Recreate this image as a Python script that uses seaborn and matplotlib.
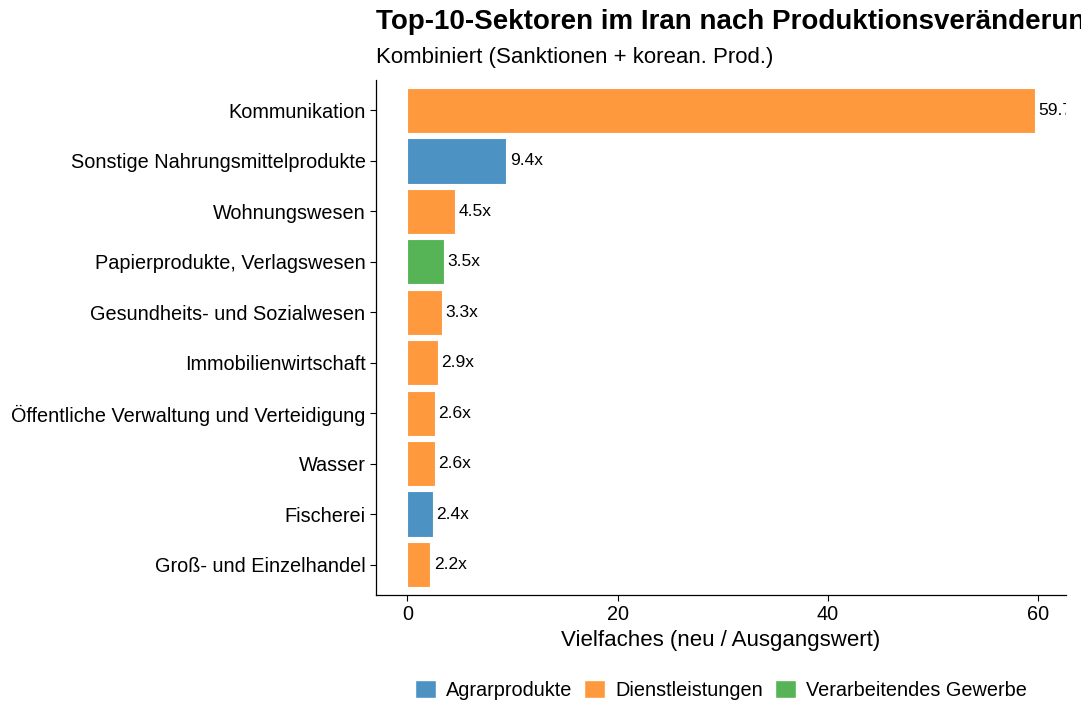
import pandas as pd
import matplotlib.pyplot as plt
import seaborn as sns
from matplotlib.patches import Patch

# Chart data
sectors = ['Kommunikation', 'Sonstige Nahrungsmittelprodukte', 'Wohnungswesen',
           'Papierprodukte, Verlagswesen', 'Gesundheits- und Sozialwesen',
           'Immobilienwirtschaft', 'Öffentliche Verwaltung und Verteidigung',
           'Wasser', 'Fischerei', 'Groß- und Einzelhandel']
multiples = [59.7, 9.4, 4.5, 3.5, 3.3, 2.9, 2.6, 2.6, 2.4, 2.2]
groups = ['Dienstleistungen', 'Agrarprodukte', 'Dienstleistungen', 'Verarbeitendes Gewerbe',
          'Dienstleistungen', 'Dienstleistungen', 'Dienstleistungen', 'Dienstleistungen',
          'Agrarprodukte', 'Dienstleistungen']
group_order = ['Agrarprodukte', 'Dienstleistungen', 'Verarbeitendes Gewerbe']
group_colors = {'Agrarprodukte': '#4C92C3', 'Dienstleistungen': '#FF993E',
                'Verarbeitendes Gewerbe': '#56B356'}

df = pd.DataFrame({'sector': sectors, 'value': multiples, 'group': groups})

sns.set_style('ticks')
plt.rcParams['font.family'] = ['Liberation Sans', 'DejaVu Sans']
plt.rcParams['text.color'] = 'black'
plt.rcParams['axes.labelcolor'] = 'black'

fig = plt.figure(figsize=(10.81, 7.01), dpi=100)
ax = fig.add_axes([376 / 1081, 1 - 595 / 701, (1066 - 376) / 1081, (595 - 80) / 701])

sns.barplot(data=df, x='value', y='sector', hue='group', hue_order=group_order,
            palette=group_colors, dodge=False, width=0.9, orient='h',
            edgecolor='white', linewidth=0.8, saturation=1, ax=ax, legend=False)

# value labels next to the bars (clipped by the panel like in the original)
for i, v in enumerate(multiples):
    ax.text(v + 0.35, i, f'{v}x', va='center', ha='left', fontsize=12.5,
            color='black', clip_on=True)

ax.set_xlim(-2.985, 62.685)
ax.set_ylim(9.6, -0.6)
ax.set_xticks([0, 20, 40, 60])
ax.tick_params(axis='both', labelsize=14.3, colors='black', length=4, width=0.8)
for s in ['left', 'bottom']:
    ax.spines[s].set_color('black')
    ax.spines[s].set_linewidth(0.9)
sns.despine(ax=ax)
ax.set_ylabel('')
ax.set_xlabel('Vielfaches (neu / Ausgangswert)', fontsize=16, labelpad=4)

fig.text(376 / 1081, 1 - 22 / 701, 'Top-10-Sektoren im Iran nach Produktionsveränderung',
         fontsize=20, fontweight='bold', ha='left', va='center')
fig.text(376 / 1081, 1 - 58 / 701, 'Kombiniert (Sanktionen + korean. Prod.)',
         fontsize=16, ha='left', va='center')

handles = [Patch(facecolor=group_colors[g], label=g) for g in group_order]
fig.legend(handles=handles, loc='center', bbox_to_anchor=(721 / 1081, 1 - 690 / 701),
           ncol=3, frameon=False, fontsize=14.3, handlelength=1.05, handleheight=1.05,
           handletextpad=0.5, columnspacing=0.6)

fig.savefig('out.png', dpi=100)
